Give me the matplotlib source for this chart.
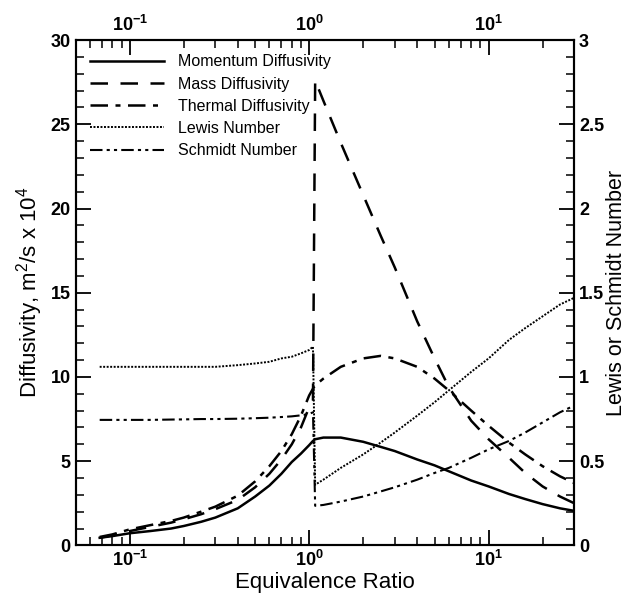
import matplotlib
matplotlib.use("Agg")
import matplotlib.pyplot as plt
from matplotlib.ticker import LogLocator, MultipleLocator

plt.rcParams["font.family"] = ["Liberation Sans", "DejaVu Sans"]
plt.rcParams["mathtext.fontset"] = "custom"
plt.rcParams["mathtext.rm"] = "Liberation Sans"
plt.rcParams["mathtext.bf"] = "Liberation Sans:bold"

# equivalence ratio grids: lean/rich side of the jump near phi = 1
phi_pre = [0.068, 0.08, 0.1, 0.13, 0.17, 0.2, 0.25, 0.3, 0.4, 0.5, 0.6, 0.7, 0.8, 0.9, 1.0, 1.05]
phi_post = [1.08, 1.2, 1.5, 2, 2.5, 3, 4, 5, 6, 8, 10, 13, 16, 20, 25, 30]

# diffusivities, m^2/s x 10^4
momentum_pre = [0.45, 0.55, 0.72, 0.85, 1.0, 1.15, 1.4, 1.65, 2.2, 2.9, 3.55, 4.25, 4.95, 5.45, 5.95, 6.2]
momentum_post = [6.3, 6.4, 6.4, 6.15, 5.85, 5.6, 5.1, 4.75, 4.4, 3.85, 3.5, 3.05, 2.75, 2.45, 2.2, 2.05]
mass_pre = [0.45, 0.6, 0.85, 1.1, 1.35, 1.55, 1.85, 2.15, 2.7, 3.45, 4.25, 5.1, 6.0, 7.0, 8.2, 8.6]
mass_post = [27.6, 26.4, 23.9, 20.8, 18.4, 16.5, 13.3, 11.1, 9.4, 7.4, 6.3, 5.2, 4.3, 3.5, 2.9, 2.5]
thermal_pre = [0.5, 0.65, 0.95, 1.2, 1.45, 1.65, 2.0, 2.3, 2.95, 3.8, 4.7, 5.6, 6.6, 7.7, 8.9, 9.3]
thermal_post = [9.5, 9.9, 10.6, 11.1, 11.25, 11.1, 10.6, 9.9, 9.2, 8.0, 7.1, 6.1, 5.4, 4.7, 4.1, 3.7]

# dimensionless numbers (right axis)
lewis_pre = [1.06, 1.06, 1.06, 1.06, 1.06, 1.06, 1.06, 1.06, 1.07, 1.08, 1.09, 1.11, 1.12, 1.14, 1.16, 1.18]
lewis_post = [0.36, 0.39, 0.46, 0.54, 0.61, 0.67, 0.77, 0.85, 0.92, 1.03, 1.11, 1.22, 1.29, 1.36, 1.43, 1.47]
schmidt_pre = [0.745, 0.745, 0.745, 0.745, 0.747, 0.748, 0.75, 0.75, 0.752, 0.755, 0.758, 0.762, 0.766, 0.772, 0.78, 0.79]
schmidt_post = [0.235, 0.24, 0.26, 0.29, 0.32, 0.345, 0.39, 0.43, 0.46, 0.52, 0.57, 0.62, 0.67, 0.73, 0.79, 0.83]

phi = phi_pre + phi_post

fig = plt.figure(figsize=(6.31, 5.98), dpi=100)
ax = fig.add_axes([0.12, 0.088, 0.79, 0.845])
ax2 = ax.twinx()

l1, = ax.plot(phi, momentum_pre + momentum_post, color="black", lw=1.8, ls="-",
              label="Momentum Diffusivity")
l2, = ax.plot(phi, mass_pre + mass_post, color="black", lw=1.8, ls=(0, (7, 5)),
              label="Mass Diffusivity")
l3, = ax.plot(phi, thermal_pre + thermal_post, color="black", lw=1.8, ls=(0, (7, 3, 2, 3)),
              label="Thermal Diffusivity")
l4, = ax2.plot(phi, lewis_pre + lewis_post, color="black", lw=1.4, ls=(0, (1, 0.8)),
               label="Lewis Number")
l5, = ax2.plot(phi, schmidt_pre + schmidt_post, color="black", lw=1.5, ls=(0, (6, 2, 1.5, 2, 1.5, 2)),
               label="Schmidt Number")

ax.set_xscale("log")
ax.set_xlim(0.05, 30)
ax.set_ylim(0, 30)
ax2.set_ylim(0, 3)

ax.xaxis.set_major_locator(LogLocator(base=10))
ax.xaxis.set_minor_locator(LogLocator(base=10, subs=range(2, 10)))
ax.yaxis.set_major_locator(MultipleLocator(5))
ax.yaxis.set_minor_locator(MultipleLocator(1))
ax2.yaxis.set_major_locator(MultipleLocator(0.5))
ax2.yaxis.set_minor_locator(MultipleLocator(0.1))
ax2.set_yticks([0, 0.5, 1, 1.5, 2, 2.5, 3], ["0", "0.5", "1", "1.5", "2", "2.5", "3"])
ax.set_xticks([0.1, 1, 10], [r"$\mathbf{10^{-1}}$", r"$\mathbf{10^{0}}$", r"$\mathbf{10^{1}}$"])

ax.tick_params(which="both", direction="in", top=True, labeltop=True, labelsize=13)
ax.tick_params(which="major", length=11, width=1.3)
ax.tick_params(which="minor", length=6, width=1.1)
ax2.tick_params(which="both", direction="in", labelsize=13)
ax2.tick_params(which="major", length=11, width=1.3)
ax2.tick_params(which="minor", length=6, width=1.1)
for lab in ax.get_yticklabels() + ax2.get_yticklabels():
    lab.set_fontweight("bold")
for a in (ax, ax2):
    for s in a.spines.values():
        s.set_linewidth(1.5)

ax.set_xlabel("Equivalence Ratio", fontsize=16, labelpad=1)
ax.set_ylabel("Diffusivity, m$^2$/s x 10$^4$", fontsize=16, labelpad=4)
ax2.set_ylabel("Lewis or Schmidt Number", fontsize=15.5, labelpad=1)

ax2.legend(handles=[l1, l2, l3, l4, l5], loc="upper left", frameon=False,
           fontsize=11.5, handlelength=4.6, labelspacing=0.45,
           borderaxespad=0.5, handletextpad=0.9)

fig.savefig("out.png", dpi=100)
